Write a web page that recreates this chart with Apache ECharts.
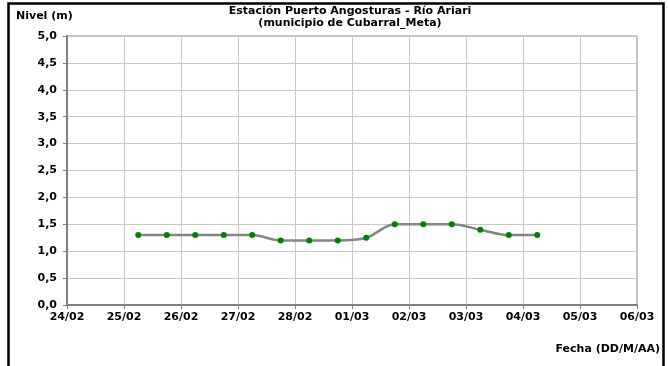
<!DOCTYPE html>
<html>
<head>
<meta charset="utf-8">
<script src="https://cdn.jsdelivr.net/npm/echarts@6/dist/echarts.min.js"></script>
<style>
  html, body { margin: 0; padding: 0; background: #fff; }
  #main { width: 668px; height: 366px; }
</style>
</head>
<body>
<div id="main"></div>
<script>
// eje X: días desde 24/02 (0 = 24/02 00:00)
const tickLabels = ['24/02', '25/02', '26/02', '27/02', '28/02', '01/03', '02/03', '03/03', '04/03', '05/03', '06/03']
// lecturas cada 12 h (06:00 y 18:00)
const fechaDias = [1.25, 1.75, 2.25, 2.75, 3.25, 3.75, 4.25, 4.75, 5.25, 5.75, 6.25, 6.75, 7.25, 7.75, 8.25]
const nivel = [1.3, 1.3, 1.3, 1.3, 1.3, 1.2, 1.2, 1.2, 1.25, 1.5, 1.5, 1.5, 1.4, 1.3, 1.3]

const font = 'DejaVu Sans, sans-serif'
const chartDom = document.getElementById('main')
const myChart = echarts.init(chartDom)

const option = {
  animation: false,
  title: {
    text: 'Estación Puerto Angosturas - Río Ariari\n(municipio de Cubarral_Meta)',
    left: 345,
    top: 0,
    textAlign: 'center',
    textStyle: { fontFamily: font, fontSize: 11, fontWeight: 'bold', color: '#000', lineHeight: 12 }
  },
  graphic: [
    {
      type: 'rect',
      shape: { x: 8.5, y: 3.5, width: 655, height: 380 },
      style: { fill: 'none', stroke: '#000', lineWidth: 2.5 }
    },
    {
      type: 'text',
      left: 16,
      top: 11,
      style: { text: 'Nivel (m)', font: 'bold 11px ' + font, fill: '#000' }
    },
    {
      type: 'text',
      right: 8,
      top: 344,
      style: { text: 'Fecha (DD/M/AA)', font: 'bold 11px ' + font, fill: '#000' }
    }
  ],
  grid: {
    left: 67,
    right: 31,
    top: 36,
    bottom: 61,
    show: true,
    borderColor: '#808080',
    borderWidth: 1
  },
  xAxis: {
    type: 'value',
    min: 0,
    max: 10,
    interval: 1,
    axisLine: { show: true, lineStyle: { color: '#808080', width: 2 } },
    axisTick: { show: true, length: 4, inside: false, lineStyle: { color: '#808080' } },
    splitLine: { show: true, lineStyle: { color: '#c8c8c8', width: 1 } },
    axisLabel: {
      margin: 7,
      fontFamily: font,
      fontSize: 11,
      fontWeight: 'bold',
      color: '#000',
      formatter: function (v) { return tickLabels[Math.round(v)] }
    }
  },
  yAxis: {
    type: 'value',
    min: 0,
    max: 5,
    interval: 0.5,
    axisLine: { show: true, lineStyle: { color: '#808080', width: 2 } },
    axisTick: { show: true, length: 4, lineStyle: { color: '#808080' } },
    splitLine: { show: true, lineStyle: { color: '#c8c8c8', width: 1 } },
    axisLabel: {
      margin: 10,
      fontFamily: font,
      fontSize: 11,
      fontWeight: 'bold',
      color: '#000',
      formatter: function (v) { return v.toFixed(1).replace('.', ',') }
    }
  },
  series: [
    {
      type: 'line',
      smooth: 0.35,
      data: fechaDias.map(function (d, i) { return [d, nivel[i]] }),
      symbol: 'circle',
      symbolSize: 6,
      lineStyle: { color: '#858585', width: 2.5 },
      itemStyle: { color: '#008000', borderWidth: 0 },
      z: 3
    }
  ]
}
myChart.setOption(option)
</script>
</body>
</html>
